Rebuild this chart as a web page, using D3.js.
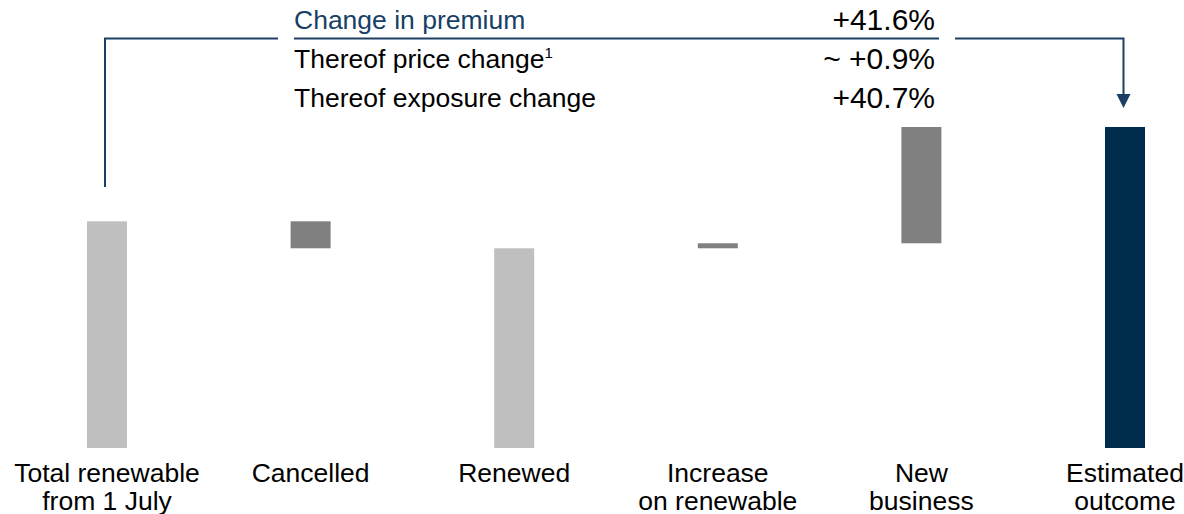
<!DOCTYPE html>
<html>
<head>
<meta charset="utf-8">
<script src="https://cdn.jsdelivr.net/npm/d3@7"></script>
<style>
  html, body { margin: 0; padding: 0; background: #fff; }
  svg { display: block; font-family: "Liberation Sans", Arial, sans-serif; }
</style>
</head>
<body>
<svg id="chart" width="1184" height="514"></svg>
<script>
// ---- data ----
const categories = ["total", "cancelled", "renewed", "increase", "newbiz", "estimated"];
const categoryLabels = [
  ["Total renewable", "from 1 July"],
  ["Cancelled"],
  ["Renewed"],
  ["Increase", "on renewable"],
  ["New", "business"],
  ["Estimated", "outcome"]
];
const barStart = [0, 100, 0, 88.1, 90.3, 0];
const barEnd   = [100, 88.1, 88.1, 90.3, 141.6, 141.6];
const barKind  = ["total", "delta", "total", "delta", "delta", "result"];
const headerLabels = ["Change in premium", "Thereof price change", "Thereof exposure change"];
const headerValues = ["+41.6%", "~ +0.9%", "+40.7%"];

// ---- chart ----
const svg = d3.select("#chart");
const colors = { total: "#bfbfbf", delta: "#808080", result: "#002d4d" };
const navy = "#1d3f63";

const x = d3.scalePoint().domain(categories).range([107, 1125]);
const y = d3.scaleLinear().domain([0, 141.6]).range([448, 127]);
const barW = 40;

svg.selectAll("rect.bar")
  .data(categories)
  .join("rect")
  .attr("class", "bar")
  .attr("x", d => x(d) - barW / 2)
  .attr("width", barW)
  .attr("y", (d, i) => y(Math.max(barStart[i], barEnd[i])))
  .attr("height", (d, i) => Math.abs(y(barStart[i]) - y(barEnd[i])))
  .attr("fill", (d, i) => colors[barKind[i]]);

// category labels
const lab = svg.selectAll("text.cat")
  .data(categories)
  .join("text")
  .attr("class", "cat")
  .attr("text-anchor", "middle")
  .attr("font-size", 26.5)
  .attr("fill", "#000");
lab.each(function(d, i) {
  const t = d3.select(this);
  categoryLabels[i].forEach((line, j) => {
    t.append("tspan").attr("x", x(d)).attr("y", 482 + j * 28).text(line);
  });
});

// header table
const rowY = [29, 68, 107];
const valY = [30, 69, 108];
const textX = 294, valX = 935;
headerLabels.forEach((h, i) => {
  const t = svg.append("text")
    .attr("x", textX).attr("y", rowY[i])
    .attr("font-size", 26.5)
    .attr("fill", i === 0 ? "#173f66" : "#000")
    .text(h);
  if (i === 1) {
    t.append("tspan").attr("font-size", 15).attr("dy", -10).text("1");
  }
  svg.append("text")
    .attr("x", valX).attr("y", valY[i])
    .attr("text-anchor", "end")
    .attr("font-size", 30)
    .attr("fill", "#000")
    .text(headerValues[i]);
});

// connectors
const lineY = 38.5;
const xFirst = x(categories[0]) - 2;
const xLast = x(categories[5]) - 1.5;
svg.append("path")
  .attr("d", `M${xFirst},187 V${lineY} H278`)
  .attr("fill", "none").attr("stroke", navy).attr("stroke-width", 2);
svg.append("line")
  .attr("x1", 294).attr("x2", 939).attr("y1", lineY).attr("y2", lineY)
  .attr("stroke", navy).attr("stroke-width", 2);
svg.append("path")
  .attr("d", `M955,${lineY} H${xLast} V95`)
  .attr("fill", "none").attr("stroke", navy).attr("stroke-width", 2);
svg.append("path")
  .attr("d", `M${xLast - 7},94 L${xLast + 7},94 L${xLast},108 Z`)
  .attr("fill", navy);
</script>
</body>
</html>
